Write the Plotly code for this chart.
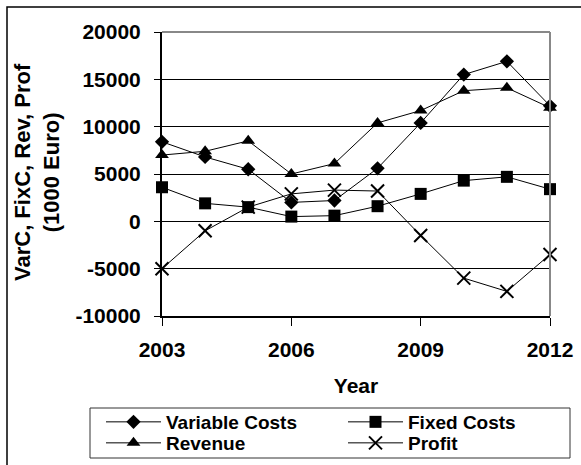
import plotly.graph_objects as go

years = [2003, 2004, 2005, 2006, 2007, 2008, 2009, 2010, 2011, 2012]
variable_costs = [8400, 6800, 5500, 2000, 2200, 5600, 10400, 15500, 16900, 12200]
fixed_costs = [3600, 1900, 1500, 500, 600, 1600, 2900, 4300, 4700, 3400]
revenue = [7000, 7400, 8500, 5000, 6100, 10400, 11700, 13800, 14100, 12000]
profit = [-5000, -1000, 1500, 2900, 3300, 3200, -1500, -6000, -7400, -3500]

x_ticks = [2003, 2006, 2009, 2012]
y_ticks = [-10000, -5000, 0, 5000, 10000, 15000, 20000]

FONT = "Liberation Sans, Arial, sans-serif"
W, H = 581, 465
L, R, T, B = 162, 31, 32, 149
pw, ph = W - L - R, H - T - B


def px_x(p):
    return (p - L) / pw


def px_y(p):
    return (H - B - p) / ph


series = [
    ("Variable Costs", variable_costs, "diamond", 11, None, "legend"),
    ("Fixed Costs", fixed_costs, "square", 12, None, "legend"),
    ("Revenue", revenue, "triangle-up", 12, None, "legend2"),
    ("Profit", profit, "x-thin-open", 13, 2, "legend2"),
]

fig = go.Figure()
for name, vals, sym, size, lw, leg in series:
    marker = dict(symbol=sym, size=size, color="black")
    if lw:
        marker["line"] = dict(color="black", width=lw)
    fig.add_trace(go.Scatter(
        x=years, y=vals, name=name, mode="lines+markers", legend=leg,
        line=dict(color="black", width=1), marker=marker, cliponaxis=False,
    ))

leg_common = dict(
    orientation="h", x=px_x(101), xanchor="left", yanchor="middle",
    borderwidth=0, bgcolor="rgba(0,0,0,0)",
    font=dict(size=19, family=FONT, weight="bold", color="black"),
    itemwidth=55, entrywidth=172, tracegroupgap=0,
)

fig.update_layout(
    width=W, height=H,
    margin=dict(l=L, r=R, t=T, b=B, pad=0, autoexpand=False),
    paper_bgcolor="white", plot_bgcolor="white",
    font=dict(family=FONT, size=21, color="black", weight="bold"),
    showlegend=True,
    legend=dict(leg_common, y=px_y(422)),
    legend2=dict(leg_common, y=px_y(443)),
    xaxis=dict(
        range=[2003, 2012], tickvals=x_ticks, ticktext=[str(v) for v in x_ticks],
        showgrid=False, zeroline=False, showline=True, linecolor="black", linewidth=2,
        ticks="outside", ticklen=8, tickcolor="black", tickwidth=1,
        ticklabelstandoff=6, automargin=False,
        title=dict(text="Year", standoff=18, font=dict(size=21, family=FONT, weight="bold")),
    ),
    yaxis=dict(
        range=[-10000, 20000], tickvals=y_ticks, ticktext=[str(v) for v in y_ticks],
        showgrid=True, gridcolor="black", gridwidth=1, zeroline=False,
        showline=True, linecolor="black", linewidth=2, automargin=False,
        ticks="outside", ticklen=6, tickcolor="black", tickwidth=1,
        ticklabelstandoff=9,
    ),
    annotations=[dict(
        text="VarC, FixC, Rev, Prof<br>(1000 Euro)", textangle=-90,
        xref="paper", yref="paper", x=px_x(37), y=px_y(172),
        xanchor="center", yanchor="middle", showarrow=False,
        font=dict(size=22, family=FONT, weight="bold"),
    )],
    shapes=[
        dict(type="line", xref="paper", yref="paper", x0=0, x1=1, y0=1, y1=1,
             line=dict(color="#888", width=2)),
        dict(type="line", xref="paper", yref="paper", x0=1, x1=1, y0=0, y1=1,
             line=dict(color="#888", width=2)),
        dict(type="rect", xref="paper", yref="paper", x0=px_x(7), y0=px_y(480),
             x1=px_x(600), y1=px_y(7), line=dict(color="black", width=1.5),
             fillcolor="rgba(0,0,0,0)", layer="below"),
        dict(type="rect", xref="paper", yref="paper", x0=px_x(90), y0=px_y(458),
             x1=px_x(570), y1=px_y(408), line=dict(color="#333", width=1),
             fillcolor="rgba(0,0,0,0)", layer="below"),
    ],
)

fig.write_html(
    "out.html",
    config={"displayModeBar": False},
    post_script="document.body.style.margin='0';document.body.style.overflow='hidden';",
)
